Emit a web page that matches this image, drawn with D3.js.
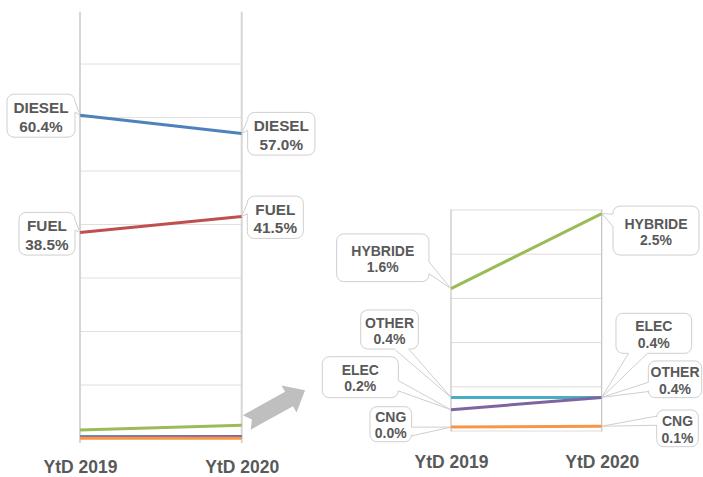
<!DOCTYPE html>
<html>
<head>
<meta charset="utf-8">
<script src="https://cdn.jsdelivr.net/npm/d3@7"></script>
<style>
  html, body { margin: 0; padding: 0; background: #fff; }
  svg { display: block; }
  text { font-family: "Liberation Sans", Arial, sans-serif; font-weight: bold; fill: #595959; }
</style>
</head>
<body>
<svg id="chart" width="703" height="477"></svg>
<script>
// Market share by fuel type, year to date
const periods = ["YtD 2019", "YtD 2020"];
const dieselShare = [60.4, 57.0];
const fuelShare = [38.5, 41.5];
const hybrideShare = [1.61, 2.46];
const otherShare = [0.38, 0.38];
const elecShare = [0.24, 0.38];
const cngShare = [0.044, 0.054];
const majorTicks = [0, 10, 20, 30, 40, 50, 60, 70];
const minorTicks = [0, 0.5, 1.0, 1.5, 2.0, 2.5];

const series = [
  { name: "DIESEL", values: dieselShare, color: "#4f81bd" },
  { name: "FUEL", values: fuelShare, color: "#c0504d" },
  { name: "HYBRIDE", values: hybrideShare, color: "#9bbb59" },
  { name: "OTHER", values: otherShare, color: "#4bacc6" },
  { name: "ELEC", values: elecShare, color: "#8064a2" },
  { name: "CNG", values: cngShare, color: "#f79646" }
];
const byName = Object.fromEntries(series.map(s => [s.name, s]));

const fmt = v => d3.format(".1f")(v) + "%";
const svg = d3.select("#chart");

// Callout box with a wedge tail pointing at (tx, ty)
function calloutPath(x, y, w, h, r, tx, ty) {
  const cx = x + w / 2, cy = y + h / 2, dx = tx - cx, dy = ty - cy;
  const dq = dx * h / w;
  let side;
  if (Math.abs(dy) - Math.abs(dq) <= 0) side = dx > 0 ? "right" : "left";
  else side = dy > 0 ? "bottom" : "top";
  const yg1 = y + (dy > 0 ? 7 : 2) * h / 12, yg2 = y + (dy > 0 ? 10 : 5) * h / 12;
  const xg1 = x + (dx > 0 ? 7 : 2) * w / 12, xg2 = x + (dx > 0 ? 10 : 5) * w / 12;
  const p = d3.path();
  p.moveTo(x + r, y);
  if (side === "top") { p.lineTo(xg1, y); p.lineTo(tx, ty); p.lineTo(xg2, y); }
  p.lineTo(x + w - r, y); p.arcTo(x + w, y, x + w, y + r, r);
  if (side === "right") { p.lineTo(x + w, yg1); p.lineTo(tx, ty); p.lineTo(x + w, yg2); }
  p.lineTo(x + w, y + h - r); p.arcTo(x + w, y + h, x + w - r, y + h, r);
  if (side === "bottom") { p.lineTo(xg2, y + h); p.lineTo(tx, ty); p.lineTo(xg1, y + h); }
  p.lineTo(x + r, y + h); p.arcTo(x, y + h, x, y + h - r, r);
  if (side === "left") { p.lineTo(x, yg2); p.lineTo(tx, ty); p.lineTo(x, yg1); }
  p.lineTo(x, y + r); p.arcTo(x, y, x + r, y, r);
  p.closePath();
  return p.toString();
}

function drawPanel(cfg) {
  const g = svg.append("g");
  const x = d3.scalePoint(periods, cfg.xRange);
  const y = d3.scaleLinear(cfg.yDomain, cfg.yRange);

  // horizontal gridlines
  g.append("g").selectAll("line").data(cfg.ticks).join("line")
    .attr("x1", x(periods[0])).attr("x2", x(periods[1]))
    .attr("y1", d => y(d)).attr("y2", d => y(d))
    .attr("stroke", cfg.gridColor).attr("stroke-width", 1);

  // period verticals
  g.append("g").selectAll("line").data(periods).join("line")
    .attr("x1", d => x(d)).attr("x2", d => x(d))
    .attr("y1", cfg.vTop).attr("y2", y(0) + cfg.vExtra)
    .attr("stroke", cfg.vColor).attr("stroke-width", cfg.vWidth);

  // category axis
  const axis = g.append("g")
    .attr("transform", `translate(0,${y(0)})`)
    .call(d3.axisBottom(x).tickSize(0).tickPadding(cfg.labelPad));
  axis.select(".domain").remove();
  axis.selectAll("text")
    .attr("font-family", "'Liberation Sans', Arial, sans-serif")
    .attr("font-weight", "bold").attr("font-size", 17.5).attr("fill", "#595959");

  // slope lines
  const line = d3.line().x((d, i) => x(periods[i])).y(d => y(d));
  g.append("g").selectAll("path").data(cfg.series.map(n => byName[n])).join("path")
    .attr("d", s => line(s.values))
    .attr("fill", "none").attr("stroke", s => s.color).attr("stroke-width", 3);

  // callouts
  const lab = g.append("g");
  cfg.labels.forEach(l => {
    const s = byName[l.name];
    const px = x(periods[l.i]), py = y(s.values[l.i]);
    const cx = px + l.dx, cy = py + l.dy;
    const bx = cx - l.w / 2, by = cy - l.h / 2;
    lab.append("path")
      .attr("d", calloutPath(bx, by, l.w, l.h, cfg.radius, px, py))
      .attr("fill", "#fff").attr("stroke", "#cfcfcf").attr("stroke-width", 1);
    lab.append("text").attr("x", cx).attr("y", cy + cfg.line1)
      .attr("text-anchor", "middle").attr("font-size", cfg.fontSize).text(s.name);
    lab.append("text").attr("x", cx).attr("y", cy + cfg.line2)
      .attr("text-anchor", "middle").attr("font-size", cfg.fontSize).text(fmt(s.values[l.i]));
  });
}

// Full scale panel
drawPanel({
  xRange: [80, 241.7],
  yDomain: [0, 80], yRange: [438.5, 10.5],
  ticks: majorTicks,
  gridColor: "#e0e0e0",
  vColor: "#d6d6d6", vWidth: 2, vTop: 11.7, vExtra: 4.5,
  labelPad: 22.1,
  series: ["HYBRIDE", "OTHER", "ELEC", "CNG", "FUEL", "DIESEL"],
  fontSize: 15.3, line1: -2.6, line2: 15.9, radius: 7,
  labels: [
    { name: "DIESEL", i: 0, dx: -39, dy: 0.3, w: 68, h: 43 },
    { name: "DIESEL", i: 1, dx: 39.6, dy: 0.2, w: 67.3, h: 42.7 },
    { name: "FUEL", i: 0, dx: -33, dy: 1.2, w: 56, h: 42.7 },
    { name: "FUEL", i: 1, dx: 33.6, dy: 0.8, w: 56, h: 42.3 }
  ]
});

// Zoomed panel for the small shares
drawPanel({
  xRange: [451, 601.7],
  yDomain: [0, 2.5], yRange: [431, 210],
  ticks: minorTicks,
  gridColor: "#dcdcdc",
  vColor: "#c4c4c4", vWidth: 1.2, vTop: 209.5, vExtra: 0.5,
  labelPad: 24.9,
  series: ["HYBRIDE", "OTHER", "ELEC", "CNG"],
  fontSize: 14, line1: -2, line2: 14.2, radius: 7,
  labels: [
    { name: "HYBRIDE", i: 0, dx: -68.2, dy: -30.9, w: 92.3, h: 47.7 },
    { name: "OTHER", i: 0, dx: -61.5, dy: -67.9, w: 57.6, h: 39 },
    { name: "ELEC", i: 0, dx: -90.7, dy: -32.6, w: 76, h: 41 },
    { name: "CNG", i: 0, dx: -60.2, dy: -2.9, w: 41.7, h: 35 },
    { name: "HYBRIDE", i: 1, dx: 54.3, dy: 17, w: 86, h: 49 },
    { name: "ELEC", i: 1, dx: 52.1, dy: -64.1, w: 75.7, h: 40 },
    { name: "OTHER", i: 1, dx: 73.3, dy: -18.1, w: 53.4, h: 36.7 },
    { name: "CNG", i: 1, dx: 75.8, dy: 2.1, w: 41.6, h: 36.7 }
  ]
});

// Block arrow linking the two panels
const L = 66.7, headStart = 48.4, shaftHalf = 8.2, headHalf = 15.5, notch = 6;
svg.append("polygon")
  .attr("points", [
    [0, -shaftHalf], [headStart, -shaftHalf], [headStart, -headHalf], [L, 0],
    [headStart, headHalf], [headStart, shaftHalf], [0, shaftHalf], [notch, 0]
  ].map(p => p.join(",")).join(" "))
  .attr("transform", "translate(246.7,422.5) rotate(-29)")
  .attr("fill", "#bfbfbf");
</script>
</body>
</html>
